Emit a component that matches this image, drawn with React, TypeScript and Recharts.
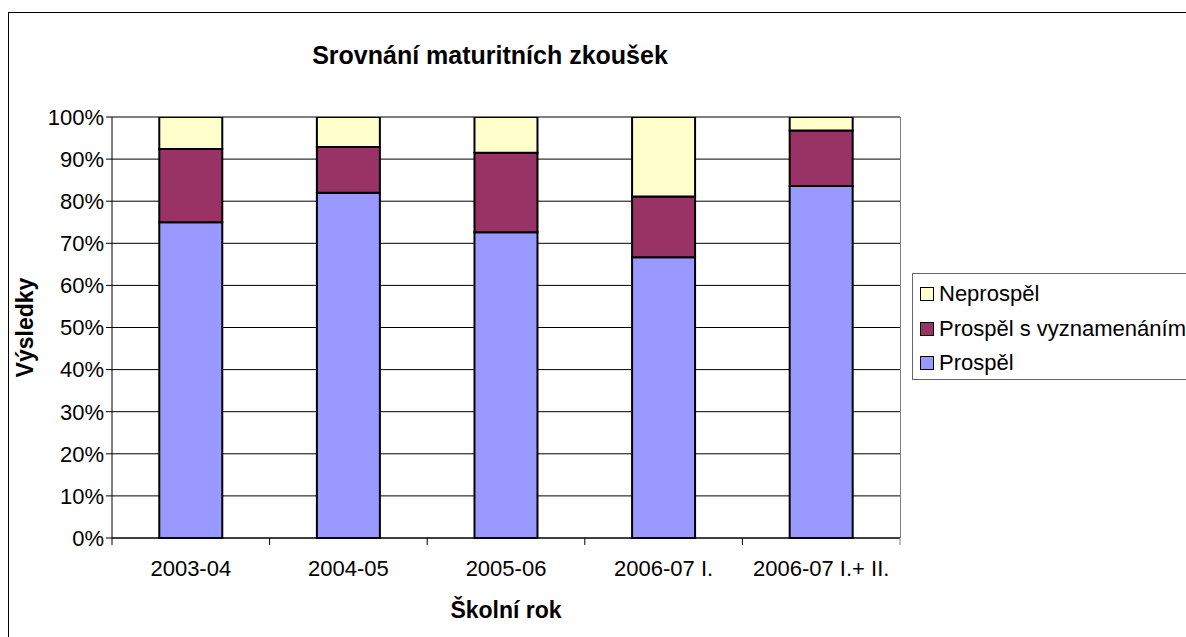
import React from "react";
import { BarChart, Bar, XAxis, YAxis, CartesianGrid, Label } from "recharts";

const categories = ["2003-04", "2004-05", "2005-06", "2006-07 I.", "2006-07 I.+ II."];
const prospel = [75.0, 82.0, 72.6, 66.7, 83.6];
const vyznamenani = [17.4, 10.9, 18.9, 14.4, 13.2];
const neprospel = [7.6, 7.1, 8.5, 18.9, 3.2];
const yTicks = [0, 10, 20, 30, 40, 50, 60, 70, 80, 90, 100];

const series = [
  { key: "prospel", name: "Prospěl", color: "#9999FF" },
  { key: "vyznamenani", name: "Prospěl s vyznamenáním", color: "#993366" },
  { key: "neprospel", name: "Neprospěl", color: "#FFFFCC" },
];

const data = categories.map((name, i) => ({
  name,
  prospel: prospel[i],
  vyznamenani: vyznamenani[i],
  neprospel: neprospel[i],
}));

const W = 1178;
const H = 629;
const margin = { top: 109, right: 286, left: 0, bottom: 69 };
const yAxisWidth = 104;
const plotWidth = W - margin.left - margin.right - yAxisWidth;
const step = plotWidth / categories.length;
const font = "'Liberation Sans', Arial, sans-serif";

const CategoryTick = (props: any) => {
  const { x, y, payload, index } = props;
  return (
    <g>
      <line x1={x - step / 2} y1={y - 8} x2={x - step / 2} y2={y - 1} stroke="#000" />
      {index === categories.length - 1 && (
        <line x1={x + step / 2} y1={y - 8} x2={x + step / 2} y2={y - 1} stroke="#808080" />
      )}
      <text x={x} y={y + 30} textAnchor="middle" fill="#000" fontSize={22} fontFamily={font}>
        {payload.value}
      </text>
    </g>
  );
};

const LegendBox = () => (
  <div
    style={{
      position: "absolute",
      left: 904,
      top: 265,
      border: "1px solid #666",
      width: 300,
      height: 107,
      boxSizing: "border-box",
      padding: "3px 0 0 7px",
      fontFamily: font,
      fontSize: 22,
      background: "#fff",
    }}
  >
    {[...series].reverse().map((s) => (
      <div key={s.key} style={{ display: "flex", alignItems: "center", height: 34.5, whiteSpace: "nowrap" }}>
        <span
          style={{
            display: "inline-block",
            width: 12,
            height: 12,
            flex: "none",
            background: s.color,
            border: "1.5px solid #000",
            marginRight: 5,
          }}
        />
        <span>{s.name}</span>
      </div>
    ))}
  </div>
);

export default function App() {
  return (
    <div style={{ position: "fixed", left: 8, top: 8, width: W, height: H, overflow: "hidden", background: "#fff" }}>
      <div
        style={{
          position: "absolute",
          left: 0,
          top: 4,
          width: 1400,
          height: 800,
          border: "1px solid #000",
        }}
      />
      <div
        style={{
          position: "absolute",
          left: 0,
          top: 33,
          width: 964,
          textAlign: "center",
          fontFamily: font,
          fontWeight: "bold",
          fontSize: 25,
        }}
      >
        Srovnání maturitních zkoušek
      </div>
      <div style={{ position: "absolute", left: 0, top: 0 }}>
        <BarChart width={W} height={H} data={data} margin={margin} barCategoryGap="30%">
          <CartesianGrid vertical={false} stroke="#000" />
          <XAxis
            dataKey="name"
            height={30}
            axisLine={{ stroke: "#000" }}
            tickLine={false}
            tick={<CategoryTick />}
            interval={0}
          >
            <Label
              value="Školní rok"
              position="insideBottom"
              offset={-50}
              style={{ fontFamily: font, fontWeight: "bold", fontSize: 23, fill: "#000" }}
            />
          </XAxis>
          <YAxis
            width={yAxisWidth}
            domain={[0, 100]}
            ticks={yTicks}
            interval={0}
            tickFormatter={(v) => `${v}%`}
            axisLine={{ stroke: "#000" }}
            tickLine={{ stroke: "#000" }}
            tickSize={6}
            tick={{ fill: "#000", fontSize: 22, fontFamily: font }}
          >
            <Label
              value="Výsledky"
              angle={-90}
              position="insideLeft"
              offset={17}
              style={{ fontFamily: font, fontWeight: "bold", fontSize: 23, fill: "#000", textAnchor: "middle" }}
            />
          </YAxis>
          {series.map((s) => (
            <Bar
              key={s.key}
              dataKey={s.key}
              name={s.name}
              stackId="a"
              fill={s.color}
              stroke="#000"
              strokeWidth={2}
              isAnimationActive={false}
            />
          ))}
        </BarChart>
      </div>
      <div
        style={{
          position: "absolute",
          left: 892,
          top: 109,
          width: 0,
          height: 421,
          borderLeft: "1.5px solid #808080",
        }}
      />
      <div
        style={{
          position: "absolute",
          left: 104,
          top: 108,
          width: 788,
          height: 0,
          borderTop: "1.5px solid #808080",
        }}
      />
      <LegendBox />
    </div>
  );
}
